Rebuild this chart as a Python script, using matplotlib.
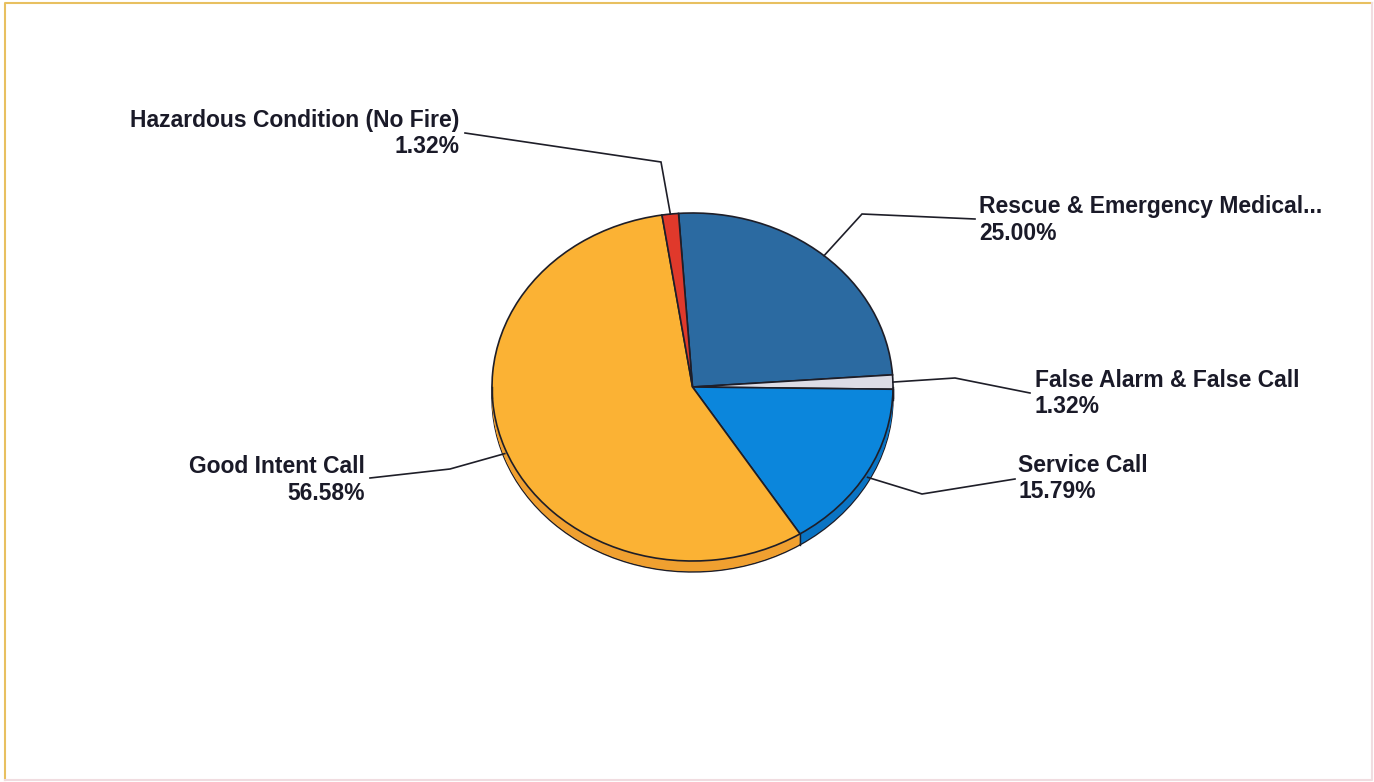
import matplotlib
matplotlib.use('Agg')
import matplotlib.pyplot as plt
import numpy as np

# ---------------- data ----------------
categories = ["Rescue & Emergency Medical...", "False Alarm & False Call",
              "Service Call", "Good Intent Call", "Hazardous Condition (No Fire)"]
percentages = [25.00, 1.32, 15.79, 56.58, 1.32]
pct_labels = ["25.00%", "1.32%", "15.79%", "56.58%", "1.32%"]

top_colors = ['#2b6aa1', '#dcdce6', '#0b86dc', '#fbb234', '#e0392b']
side_colors = ['#235a8a', '#b8b8c2', '#0a74c4', '#f0a030', '#c02a20']

# ---------------- layout (pixels) ----------------
W, H = 1374, 782
cx, cy, rx, ry, depth = 692.5, 387.0, 200.5, 174.0, 11
start_angle = 94
# label layout: (text x, baseline1, baseline2, ha, elbow, line end)
label_layout = [
    (979, 213, 240, 'left', (862, 214), (975, 219)),
    (1035, 387, 413, 'left', (955, 378), (1030, 393)),
    (1018, 472, 498, 'left', (922, 494), (1015, 479)),
    (365, 473, 500, 'right', (450, 469), (370, 478)),
    (459, 126.5, 153, 'right', (661, 162), (465, 133)),
]

fig = plt.figure(figsize=(W / 100, H / 100), dpi=100)
fig.patch.set_facecolor('white')

# ---------------- pie axes ----------------
pad = 0.06
ylo = -1.0 - depth / ry - pad
left_px = cx - (1 + pad) * rx
top_px = cy - (1 + pad) * ry
bot_px = cy - ylo * ry
pax = fig.add_axes([left_px / W, (H - bot_px) / H,
                    2 * (1 + pad) * rx / W, (bot_px - top_px) / H])
pax.set_zorder(1)

d = depth / ry
# side (depth) layers
for k in range(depth, 0, -1):
    wedges, _ = pax.pie(percentages, colors=side_colors, startangle=start_angle,
                        counterclock=False, center=(0, -k / ry), radius=1,
                        wedgeprops=dict(linewidth=1.0 if k == depth else 0,
                                        edgecolor='#1e1e28'))
# vertical side edges at slice boundaries on the front and extremes
bounds = start_angle - 3.6 * np.concatenate([[0], np.cumsum(percentages)])
for a in list(bounds) + [180, 0]:
    t = np.deg2rad(a)
    if np.sin(t) <= 0.001:
        pax.plot([np.cos(t), np.cos(t)], [np.sin(t), np.sin(t) - d],
                 color='#1e1e28', lw=1.0, zorder=5)
# top face
pax.pie(percentages, colors=top_colors, startangle=start_angle,
        counterclock=False, center=(0, 0), radius=1,
        wedgeprops=dict(linewidth=1.2, edgecolor='#1e1e28'))
pax.set_aspect('auto')
pax.set_xlim(-1 - pad, 1 + pad)
pax.set_ylim(ylo, 1 + pad)
pax.axis('off')

# ---------------- overlay axes for labels ----------------
oax = fig.add_axes([0, 0, 1, 1])
oax.set_zorder(2)
oax.patch.set_alpha(0)
oax.set_xlim(0, W)
oax.set_ylim(H, 0)
oax.axis('off')

cum = np.concatenate([[0], np.cumsum(percentages)])
for i, (cat, p, pl) in enumerate(zip(categories, percentages, pct_labels)):
    tx, b1, b2, ha, elbow, end = label_layout[i]
    mid = np.deg2rad(start_angle - 3.6 * (cum[i] + p / 2))
    sx = cx + rx * np.cos(mid)
    sy = cy - ry * np.sin(mid)
    if np.sin(mid) < 0:
        sy += depth * 0.5
    oax.plot([sx, elbow[0], end[0]], [sy, elbow[1], end[1]],
             color='#1e1e28', lw=1.2, solid_joinstyle='miter')
    for txt, b in ((cat, b1), (pl, b2)):
        oax.text(tx, b, txt, ha=ha, va='baseline', fontsize=16.5,
                 fontweight='bold', family='Liberation Sans', color='#1a1a28')

# ---------------- border ----------------
oax.plot([5, 5, 1372], [780, 3, 3], color='#e8c060', lw=1.5)
oax.plot([1372, 1372, 5], [3, 780, 780], color='#f0dce0', lw=1.5)

fig.savefig('out.png', dpi=100, facecolor='white')
